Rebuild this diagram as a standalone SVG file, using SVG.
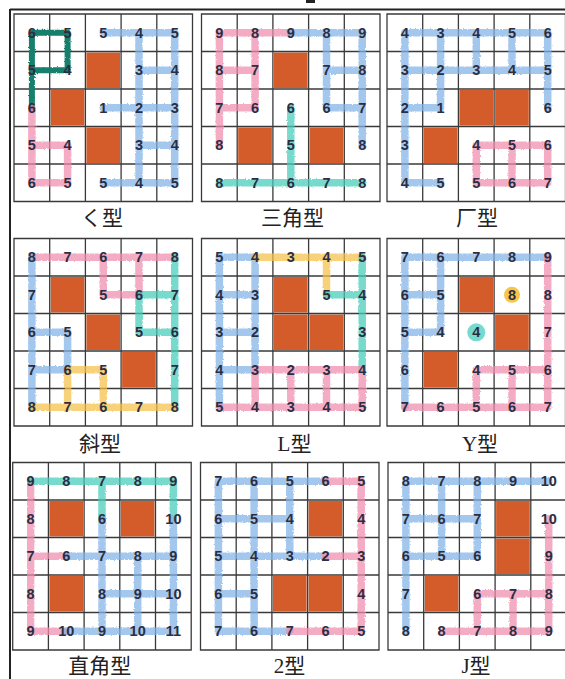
<svg xmlns="http://www.w3.org/2000/svg" xmlns:xlink="http://www.w3.org/1999/xlink" width="565" height="679" viewBox="0 0 565 679">
<style>
.bg{fill:#fff}
.grid{fill:none;stroke:#3a3a3a;stroke-width:1.3}
.blk{fill:#d35c2a}
.cr{fill:none;stroke-width:7.5;stroke-linecap:round;stroke-linejoin:round;opacity:.72;filter:url(#rough)}
.blue{stroke:#82b2e8}
.pink{stroke:#f08cae}
.teal{stroke:#45cdbb}
.yel{stroke:#f6c048}
.dg{stroke:#14806d;opacity:1;stroke-width:6}
.n{font-family:"Liberation Sans",Arial,sans-serif;font-weight:bold;font-size:14.5px;fill:#2b2e42;text-anchor:middle}
.lab{font-family:"Liberation Serif","Noto Sans CJK SC",serif;font-size:21px;fill:#222;text-anchor:middle}
</style>
<defs>
<filter id="rough" x="-10%" y="-10%" width="120%" height="120%">
<feTurbulence type="fractalNoise" baseFrequency="0.6" numOctaves="2" seed="3" result="t"/>
<feDisplacementMap in="SourceGraphic" in2="t" scale="2.5"/>
</filter>
<g id="grid">
<path class="grid" d="M0 0H178.5V187.5H0Z M35.7 0V187.5 M71.4 0V187.5 M107.1 0V187.5 M142.8 0V187.5 M0 37.5H178.5 M0 75H178.5 M0 112.5H178.5 M0 150H178.5"/>
</g>
</defs>
<rect class="bg" width="565" height="679"/>
<g id="frame">
<path d="M10 9.5H565 M10 9V679" stroke="#222" stroke-width="2" fill="none"/>
<rect x="306" y="0" width="9" height="3" fill="#222"/>
</g>

<g id="panel-ku" transform="translate(14,14)">
<rect class="blk" x="72.4" y="38.5" width="33.7" height="35.5"/><rect class="blk" x="36.7" y="76" width="33.7" height="35.5"/><rect class="blk" x="72.4" y="113.5" width="33.7" height="35.5"/>
<use xlink:href="#grid"/>
<g class="connectors">
<path class="cr dg" d="M17.9 93.8V18.8H53.6V56.3H17.9"/>
<path class="cr pink" d="M17.9 93.8V168.8H53.6V131.3H17.9"/>
<path class="cr blue" d="M89.3 18.8H160.7V168.8H89.3 M125 18.8V168.8 M89.3 93.8H160.7 M125 56.3H160.7 M125 131.3H160.7"/>
</g>
<g transform="translate(0,0.7)">
<text class="n" x="17.9" y="23.3">6</text><text class="n" x="53.6" y="23.3">5</text><text class="n" x="89.3" y="23.3">5</text><text class="n" x="125" y="23.3">4</text><text class="n" x="160.7" y="23.3">5</text>
<text class="n" x="17.9" y="60.8">5</text><text class="n" x="53.6" y="60.8">4</text><text class="n" x="125" y="60.8">3</text><text class="n" x="160.7" y="60.8">4</text>
<text class="n" x="17.9" y="98.3">6</text><text class="n" x="89.3" y="98.3">1</text><text class="n" x="125" y="98.3">2</text><text class="n" x="160.7" y="98.3">3</text>
<text class="n" x="17.9" y="135.8">5</text><text class="n" x="53.6" y="135.8">4</text><text class="n" x="125" y="135.8">3</text><text class="n" x="160.7" y="135.8">4</text>
<text class="n" x="17.9" y="173.3">6</text><text class="n" x="53.6" y="173.3">5</text><text class="n" x="89.3" y="173.3">5</text><text class="n" x="125" y="173.3">4</text><text class="n" x="160.7" y="173.3">5</text>
</g>
<text class="lab" x="88" y="211">く型</text>
</g>

<g id="panel-sanjiao" transform="translate(201.5,14)">
<rect class="blk" x="72.4" y="38.5" width="33.7" height="35.5"/><rect class="blk" x="36.7" y="113.5" width="33.7" height="35.5"/><rect class="blk" x="108.1" y="113.5" width="33.7" height="35.5"/>
<use xlink:href="#grid"/>
<g class="connectors">
<path class="cr pink" d="M89.3 18.8H17.9V131.3 M53.6 18.8V93.8H17.9 M17.9 56.3H53.6"/>
<path class="cr blue" d="M89.3 18.8H160.7V131.3 M125 18.8V93.8H160.7 M125 56.3H160.7"/>
<path class="cr teal" d="M89.3 93.8V168.8 M17.9 168.8H160.7"/>
</g>
<g transform="translate(0,0.7)">
<text class="n" x="17.9" y="23.3">9</text><text class="n" x="53.6" y="23.3">8</text><text class="n" x="89.3" y="23.3">9</text><text class="n" x="125" y="23.3">8</text><text class="n" x="160.7" y="23.3">9</text>
<text class="n" x="17.9" y="60.8">8</text><text class="n" x="53.6" y="60.8">7</text><text class="n" x="125" y="60.8">7</text><text class="n" x="160.7" y="60.8">8</text>
<text class="n" x="17.9" y="98.3">7</text><text class="n" x="53.6" y="98.3">6</text><text class="n" x="89.3" y="98.3">6</text><text class="n" x="125" y="98.3">6</text><text class="n" x="160.7" y="98.3">7</text>
<text class="n" x="17.9" y="135.8">8</text><text class="n" x="89.3" y="135.8">5</text><text class="n" x="160.7" y="135.8">8</text>
<text class="n" x="17.9" y="173.3">8</text><text class="n" x="53.6" y="173.3">7</text><text class="n" x="89.3" y="173.3">6</text><text class="n" x="125" y="173.3">7</text><text class="n" x="160.7" y="173.3">8</text>
</g>
<text class="lab" x="91" y="211">三角型</text>
</g>

<g id="panel-chang" transform="translate(387,14)">
<rect class="blk" x="72.4" y="76" width="33.7" height="35.5"/><rect class="blk" x="108.1" y="76" width="33.7" height="35.5"/><rect class="blk" x="36.7" y="113.5" width="33.7" height="35.5"/>
<use xlink:href="#grid"/>
<g class="connectors">
<path class="cr blue" d="M17.9 168.8V18.8H160.7V93.8 M53.6 18.8V93.8H17.9 M17.9 56.3H160.7 M89.3 18.8V56.3 M125 18.8V56.3 M17.9 168.8H53.6"/>
<path class="cr pink" d="M89.3 131.3H160.7 M89.3 168.8H160.7 M89.3 131.3V168.8 M125 131.3V168.8 M160.7 131.3V168.8"/>
</g>
<g transform="translate(0,0.7)">
<text class="n" x="17.9" y="23.3">4</text><text class="n" x="53.6" y="23.3">3</text><text class="n" x="89.3" y="23.3">4</text><text class="n" x="125" y="23.3">5</text><text class="n" x="160.7" y="23.3">6</text>
<text class="n" x="17.9" y="60.8">3</text><text class="n" x="53.6" y="60.8">2</text><text class="n" x="89.3" y="60.8">3</text><text class="n" x="125" y="60.8">4</text><text class="n" x="160.7" y="60.8">5</text>
<text class="n" x="17.9" y="98.3">2</text><text class="n" x="53.6" y="98.3">1</text><text class="n" x="160.7" y="98.3">6</text>
<text class="n" x="17.9" y="135.8">3</text><text class="n" x="89.3" y="135.8">4</text><text class="n" x="125" y="135.8">5</text><text class="n" x="160.7" y="135.8">6</text>
<text class="n" x="17.9" y="173.3">4</text><text class="n" x="53.6" y="173.3">5</text><text class="n" x="89.3" y="173.3">5</text><text class="n" x="125" y="173.3">6</text><text class="n" x="160.7" y="173.3">7</text>
</g>
<text class="lab" x="90" y="211">厂型</text>
</g>

<g id="panel-xie" transform="translate(14,238.5)">
<rect class="blk" x="36.7" y="38.5" width="33.7" height="35.5"/><rect class="blk" x="72.4" y="76" width="33.7" height="35.5"/><rect class="blk" x="108.1" y="113.5" width="33.7" height="35.5"/>
<use xlink:href="#grid"/>
<g class="connectors">
<path class="cr pink" d="M17.9 18.8H160.7 M89.3 18.8V56.3H125V18.8"/>
<path class="cr teal" d="M160.7 18.8V168.8 M160.7 56.3H125V93.8H160.7"/>
<path class="cr blue" d="M17.9 18.8V168.8 M17.9 93.8H53.6V131.3H17.9"/>
<path class="cr yel" d="M17.9 168.8H160.7 M53.6 168.8V131.3H89.3V168.8"/>
</g>
<g transform="translate(0,0.7)">
<text class="n" x="17.9" y="23.3">8</text><text class="n" x="53.6" y="23.3">7</text><text class="n" x="89.3" y="23.3">6</text><text class="n" x="125" y="23.3">7</text><text class="n" x="160.7" y="23.3">8</text>
<text class="n" x="17.9" y="60.8">7</text><text class="n" x="89.3" y="60.8">5</text><text class="n" x="125" y="60.8">6</text><text class="n" x="160.7" y="60.8">7</text>
<text class="n" x="17.9" y="98.3">6</text><text class="n" x="53.6" y="98.3">5</text><text class="n" x="125" y="98.3">5</text><text class="n" x="160.7" y="98.3">6</text>
<text class="n" x="17.9" y="135.8">7</text><text class="n" x="53.6" y="135.8">6</text><text class="n" x="89.3" y="135.8">5</text><text class="n" x="160.7" y="135.8">7</text>
<text class="n" x="17.9" y="173.3">8</text><text class="n" x="53.6" y="173.3">7</text><text class="n" x="89.3" y="173.3">6</text><text class="n" x="125" y="173.3">7</text><text class="n" x="160.7" y="173.3">8</text>
</g>
<text class="lab" x="86" y="212">斜型</text>
</g>

<g id="panel-L" transform="translate(201.5,238.5)">
<rect class="blk" x="72.4" y="38.5" width="33.7" height="35.5"/><rect class="blk" x="72.4" y="76" width="33.7" height="35.5"/><rect class="blk" x="108.1" y="76" width="33.7" height="35.5"/>
<use xlink:href="#grid"/>
<g class="connectors">
<path class="cr blue" d="M17.9 18.8V168.8 M53.6 18.8V131.3 M17.9 18.8H53.6 M17.9 56.3H53.6 M17.9 93.8H53.6 M17.9 131.3H53.6"/>
<path class="cr yel" d="M53.6 18.8H160.7 M125 18.8V56.3"/>
<path class="cr teal" d="M160.7 18.8V131.3 M125 56.3H160.7"/>
<path class="cr pink" d="M53.6 131.3H160.7 M17.9 168.8H160.7 M53.6 131.3V168.8 M89.3 131.3V168.8 M125 131.3V168.8 M160.7 131.3V168.8"/>
</g>
<g transform="translate(0,0.7)">
<text class="n" x="17.9" y="23.3">5</text><text class="n" x="53.6" y="23.3">4</text><text class="n" x="89.3" y="23.3">3</text><text class="n" x="125" y="23.3">4</text><text class="n" x="160.7" y="23.3">5</text>
<text class="n" x="17.9" y="60.8">4</text><text class="n" x="53.6" y="60.8">3</text><text class="n" x="125" y="60.8">5</text><text class="n" x="160.7" y="60.8">4</text>
<text class="n" x="17.9" y="98.3">3</text><text class="n" x="53.6" y="98.3">2</text><text class="n" x="160.7" y="98.3">3</text>
<text class="n" x="17.9" y="135.8">4</text><text class="n" x="53.6" y="135.8">3</text><text class="n" x="89.3" y="135.8">2</text><text class="n" x="125" y="135.8">3</text><text class="n" x="160.7" y="135.8">4</text>
<text class="n" x="17.9" y="173.3">5</text><text class="n" x="53.6" y="173.3">4</text><text class="n" x="89.3" y="173.3">3</text><text class="n" x="125" y="173.3">4</text><text class="n" x="160.7" y="173.3">5</text>
</g>
<text class="lab" x="93" y="212">L型</text>
</g>

<g id="panel-Y" transform="translate(387,238.5)">
<rect class="blk" x="72.4" y="38.5" width="33.7" height="35.5"/><rect class="blk" x="108.1" y="76" width="33.7" height="35.5"/><rect class="blk" x="36.7" y="113.5" width="33.7" height="35.5"/>
<use xlink:href="#grid"/>
<g class="connectors">
<path class="cr blue" d="M17.9 168.8V18.8H160.7 M53.6 18.8V93.8H17.9 M17.9 56.3H53.6"/>
<path class="cr pink" d="M160.7 18.8V168.8H17.9 M89.3 131.3H160.7 M89.3 131.3V168.8 M125 131.3V168.8"/>
<circle cx="125" cy="56.3" r="8" fill="#f6bf36" opacity=".9"/>
<circle cx="89.3" cy="93.8" r="9" fill="#5fd3c6" opacity=".85"/>
</g>
<g transform="translate(0,0.7)">
<text class="n" x="17.9" y="23.3">7</text><text class="n" x="53.6" y="23.3">6</text><text class="n" x="89.3" y="23.3">7</text><text class="n" x="125" y="23.3">8</text><text class="n" x="160.7" y="23.3">9</text>
<text class="n" x="17.9" y="60.8">6</text><text class="n" x="53.6" y="60.8">5</text><text class="n" x="125" y="60.8">8</text><text class="n" x="160.7" y="60.8">8</text>
<text class="n" x="17.9" y="98.3">5</text><text class="n" x="53.6" y="98.3">4</text><text class="n" x="89.3" y="98.3">4</text><text class="n" x="160.7" y="98.3">7</text>
<text class="n" x="17.9" y="135.8">6</text><text class="n" x="89.3" y="135.8">4</text><text class="n" x="125" y="135.8">5</text><text class="n" x="160.7" y="135.8">6</text>
<text class="n" x="17.9" y="173.3">7</text><text class="n" x="53.6" y="173.3">6</text><text class="n" x="89.3" y="173.3">5</text><text class="n" x="125" y="173.3">6</text><text class="n" x="160.7" y="173.3">7</text>
</g>
<text class="lab" x="93" y="212">Y型</text>
</g>

<g id="panel-zhijiao" transform="translate(12.7,462.5)">
<rect class="blk" x="36.7" y="38.5" width="33.7" height="35.5"/><rect class="blk" x="108.1" y="38.5" width="33.7" height="35.5"/><rect class="blk" x="36.7" y="113.5" width="33.7" height="35.5"/>
<use xlink:href="#grid"/>
<g class="connectors">
<path class="cr pink" d="M17.9 18.8V168.8H53.6 M17.9 93.8H53.6"/>
<path class="cr teal" d="M17.9 18.8H160.7 M89.3 18.8V56.3 M160.7 18.8V56.3"/>
<path class="cr blue" d="M89.3 56.3V168.8 M160.7 56.3V168.8 M53.6 93.8H160.7 M125 93.8V168.8 M89.3 131.3H160.7 M53.6 168.8H160.7"/>
</g>
<g transform="translate(0,0.7)">
<text class="n" x="17.9" y="23.3">9</text><text class="n" x="53.6" y="23.3">8</text><text class="n" x="89.3" y="23.3">7</text><text class="n" x="125" y="23.3">8</text><text class="n" x="160.7" y="23.3">9</text>
<text class="n" x="17.9" y="60.8">8</text><text class="n" x="89.3" y="60.8">6</text><text class="n" x="160.7" y="60.8">10</text>
<text class="n" x="17.9" y="98.3">7</text><text class="n" x="53.6" y="98.3">6</text><text class="n" x="89.3" y="98.3">7</text><text class="n" x="125" y="98.3">8</text><text class="n" x="160.7" y="98.3">9</text>
<text class="n" x="17.9" y="135.8">8</text><text class="n" x="89.3" y="135.8">8</text><text class="n" x="125" y="135.8">9</text><text class="n" x="160.7" y="135.8">10</text>
<text class="n" x="17.9" y="173.3">9</text><text class="n" x="53.6" y="173.3">10</text><text class="n" x="89.3" y="173.3">9</text><text class="n" x="125" y="173.3">10</text><text class="n" x="160.7" y="173.3">11</text>
</g>
<text class="lab" x="87" y="210">直角型</text>
</g>

<g id="panel-2" transform="translate(200.5,462.5)">
<rect class="blk" x="108.1" y="38.5" width="33.7" height="35.5"/><rect class="blk" x="72.4" y="113.5" width="33.7" height="35.5"/><rect class="blk" x="108.1" y="113.5" width="33.7" height="35.5"/>
<use xlink:href="#grid"/>
<g class="connectors">
<path class="cr blue" d="M125 18.8H17.9V168.8H89.3 M53.6 18.8V168.8 M89.3 18.8V93.8 M17.9 56.3H89.3 M17.9 93.8H125 M17.9 131.3H53.6"/>
<path class="cr pink" d="M125 18.8H160.7V168.8H89.3 M125 93.8H160.7"/>
</g>
<g transform="translate(0,0.7)">
<text class="n" x="17.9" y="23.3">7</text><text class="n" x="53.6" y="23.3">6</text><text class="n" x="89.3" y="23.3">5</text><text class="n" x="125" y="23.3">6</text><text class="n" x="160.7" y="23.3">5</text>
<text class="n" x="17.9" y="60.8">6</text><text class="n" x="53.6" y="60.8">5</text><text class="n" x="89.3" y="60.8">4</text><text class="n" x="160.7" y="60.8">4</text>
<text class="n" x="17.9" y="98.3">5</text><text class="n" x="53.6" y="98.3">4</text><text class="n" x="89.3" y="98.3">3</text><text class="n" x="125" y="98.3">2</text><text class="n" x="160.7" y="98.3">3</text>
<text class="n" x="17.9" y="135.8">6</text><text class="n" x="53.6" y="135.8">5</text><text class="n" x="160.7" y="135.8">4</text>
<text class="n" x="17.9" y="173.3">7</text><text class="n" x="53.6" y="173.3">6</text><text class="n" x="89.3" y="173.3">7</text><text class="n" x="125" y="173.3">6</text><text class="n" x="160.7" y="173.3">5</text>
</g>
<text class="lab" x="89" y="210">2型</text>
</g>

<g id="panel-J" transform="translate(388,462.5)">
<rect class="blk" x="108.1" y="38.5" width="33.7" height="35.5"/><rect class="blk" x="108.1" y="76" width="33.7" height="35.5"/><rect class="blk" x="36.7" y="113.5" width="33.7" height="35.5"/>
<use xlink:href="#grid"/>
<g class="connectors">
<path class="cr blue" d="M17.9 168.8V18.8H160.7 M53.6 18.8V93.8 M89.3 18.8V93.8 M17.9 56.3H89.3 M17.9 93.8H89.3"/>
<path class="cr pink" d="M160.7 56.3V168.8H53.6 M89.3 131.3H160.7 M89.3 131.3V168.8 M125 131.3V168.8"/>
</g>
<g transform="translate(0,0.7)">
<text class="n" x="17.9" y="23.3">8</text><text class="n" x="53.6" y="23.3">7</text><text class="n" x="89.3" y="23.3">8</text><text class="n" x="125" y="23.3">9</text><text class="n" x="160.7" y="23.3">10</text>
<text class="n" x="17.9" y="60.8">7</text><text class="n" x="53.6" y="60.8">6</text><text class="n" x="89.3" y="60.8">7</text><text class="n" x="160.7" y="60.8">10</text>
<text class="n" x="17.9" y="98.3">6</text><text class="n" x="53.6" y="98.3">5</text><text class="n" x="89.3" y="98.3">6</text><text class="n" x="160.7" y="98.3">9</text>
<text class="n" x="17.9" y="135.8">7</text><text class="n" x="89.3" y="135.8">6</text><text class="n" x="125" y="135.8">7</text><text class="n" x="160.7" y="135.8">8</text>
<text class="n" x="17.9" y="173.3">8</text><text class="n" x="53.6" y="173.3">8</text><text class="n" x="89.3" y="173.3">7</text><text class="n" x="125" y="173.3">8</text><text class="n" x="160.7" y="173.3">9</text>
</g>
<text class="lab" x="88" y="210">J型</text>
</g>
</svg>
